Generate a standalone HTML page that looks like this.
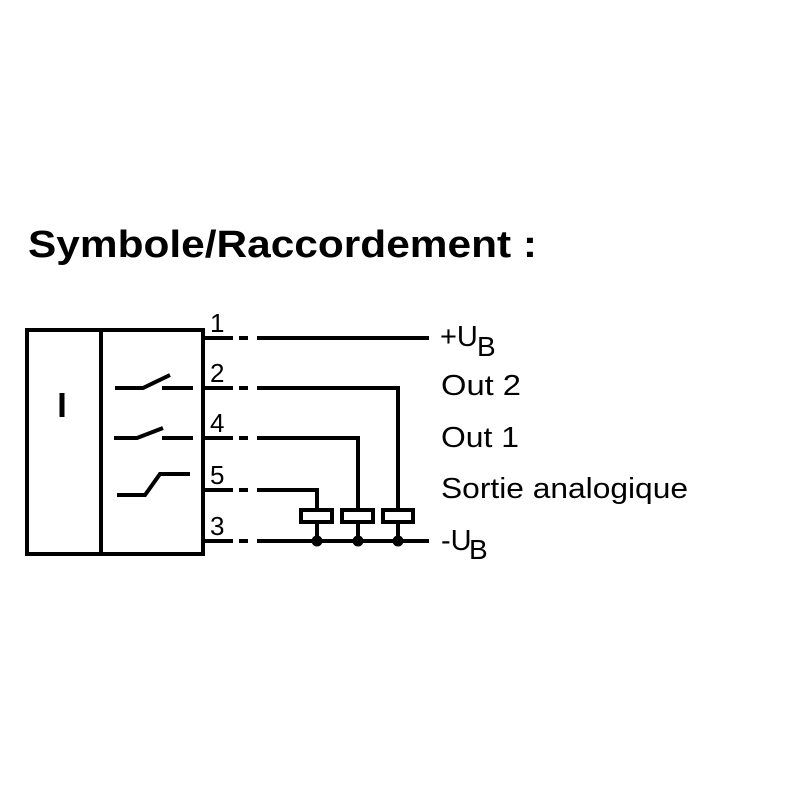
<!DOCTYPE html>
<html><head><style>html,body{margin:0;padding:0;background:#fff;}</style></head>
<body>
<svg width="800" height="800" viewBox="0 0 800 800" xmlns="http://www.w3.org/2000/svg" font-family="Liberation Sans, Arial, sans-serif">
<rect width="800" height="800" fill="#fff"/>
<text x="28" y="257" font-size="38" font-weight="bold" textLength="509" lengthAdjust="spacingAndGlyphs">Symbole/Raccordement :</text>
<g stroke="#000" stroke-width="4" fill="none">
<rect x="27" y="330" width="176" height="224"/>
<line x1="101" y1="330" x2="101" y2="554"/>
<line x1="62" y1="393" x2="62" y2="417" stroke-width="5"/>
<line x1="203" y1="338" x2="233" y2="338"/><line x1="239" y1="338" x2="248" y2="338"/><line x1="257" y1="338" x2="429" y2="338"/>
<polyline points="115,388 143,388 170,375"/><line x1="162" y1="388" x2="193" y2="388"/>
<line x1="203" y1="388" x2="233" y2="388"/><line x1="239" y1="388" x2="248" y2="388"/><polyline points="257,388 398,388 398,510"/>
<polyline points="114,438 137,438 163,428"/><line x1="162" y1="438" x2="193" y2="438"/>
<line x1="203" y1="438" x2="233" y2="438"/><line x1="239" y1="438" x2="248" y2="438"/><polyline points="257,438 358,438 358,510"/>
<polyline points="117,495 145,495 160,474 190,474"/>
<line x1="203" y1="490" x2="233" y2="490"/><line x1="239" y1="490" x2="248" y2="490"/><polyline points="257,490 317,490 317,510"/>
<line x1="203" y1="541" x2="233" y2="541"/><line x1="239" y1="541" x2="248" y2="541"/><line x1="257" y1="541" x2="429" y2="541"/>
<rect x="301" y="510" width="31" height="12"/><rect x="342" y="510" width="31" height="12"/><rect x="383" y="510" width="30" height="12"/>
<line x1="317" y1="522" x2="317" y2="541"/><line x1="358" y1="522" x2="358" y2="541"/><line x1="398" y1="522" x2="398" y2="541"/>
</g>
<g fill="#000"><circle cx="317" cy="541" r="5.5"/><circle cx="358" cy="541" r="5.5"/><circle cx="398" cy="541" r="5.5"/></g>
<g font-size="26">
<text x="210" y="332">1</text><text x="210" y="382">2</text><text x="210" y="432">4</text><text x="210" y="484">5</text><text x="210" y="535">3</text>
</g>
<g font-size="29">
<text x="440" y="346">+U</text><text x="477" y="356" font-size="28">B</text>
<text x="441" y="395" textLength="80" lengthAdjust="spacingAndGlyphs">Out 2</text>
<text x="441" y="447" textLength="78" lengthAdjust="spacingAndGlyphs">Out 1</text>
<text x="441" y="498" textLength="247" lengthAdjust="spacingAndGlyphs">Sortie analogique</text>
<text x="441" y="550">-U</text><text x="469" y="559" font-size="28">B</text>
</g>
</svg>
</body></html>
